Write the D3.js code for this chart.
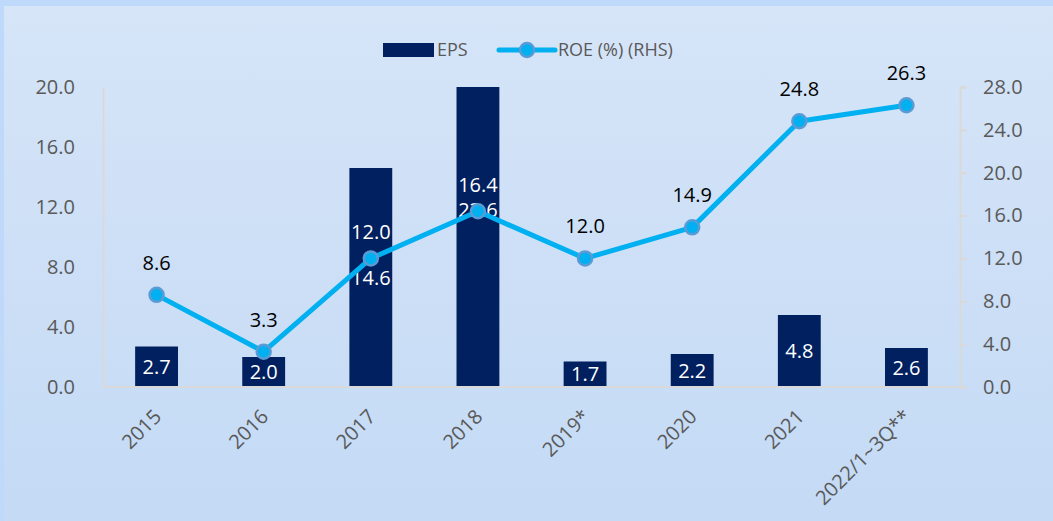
<!DOCTYPE html>
<html>
<head>
<meta charset="utf-8">
<script src="https://cdn.jsdelivr.net/npm/d3@7"></script>
<style>
  body { margin: 0; background: #bfd9fb; }
  svg { display: block; font-family: 'Open Sans', sans-serif; }
</style>
</head>
<body>
<svg></svg>
<script>
const categories = ['2015', '2016', '2017', '2018', '2019*', '2020', '2021', '2022/1~3Q**'];
const eps = [2.7, 2.0, 14.6, 23.6, 1.7, 2.2, 4.8, 2.6];
const roe = [8.6, 3.3, 12.0, 16.4, 12.0, 14.9, 24.8, 26.3];
const leftTicks = [0, 4, 8, 12, 16, 20];
const rightTicks = [0, 4, 8, 12, 16, 20, 24, 28];

const W = 1053, H = 521;
const plotLeft = 103, plotRight = 960, plotTop = 87, plotBottom = 387;

const svg = d3.select('svg').attr('width', W).attr('height', H);

const defs = svg.append('defs');
const grad = defs.append('linearGradient').attr('id', 'bg').attr('x1', 0).attr('x2', 0).attr('y1', 0).attr('y2', 1);
grad.append('stop').attr('offset', '0%').attr('stop-color', '#d6e5f8');
grad.append('stop').attr('offset', '100%').attr('stop-color', '#c4daf5');
defs.append('clipPath').attr('id', 'plot')
  .append('rect').attr('x', plotLeft).attr('y', plotTop).attr('width', plotRight - plotLeft).attr('height', plotBottom - plotTop);

svg.append('rect').attr('width', W).attr('height', H).attr('fill', '#bfd9fb');
svg.append('rect').attr('x', 4).attr('y', 6).attr('width', W - 4).attr('height', H - 6).attr('fill', 'url(#bg)');

const x = d3.scaleBand().domain(categories).range([plotLeft, plotRight]).paddingInner(0.6).paddingOuter(0.3);
const yL = d3.scaleLinear().domain([0, 20]).range([plotBottom, plotTop]);
const yR = d3.scaleLinear().domain([0, 28]).range([plotBottom, plotTop]);

const tickColor = '#595959';
const axisColor = '#d9d9d9';

// left axis
const gl = svg.append('g').attr('transform', `translate(${plotLeft},0)`)
  .call(d3.axisLeft(yL).tickValues(leftTicks).tickSize(0).tickPadding(28).tickFormat(d3.format('.1f')));
gl.select('.domain').attr('stroke', axisColor).attr('stroke-width', 2);
gl.selectAll('text').attr('fill', tickColor).style('font-size', '20px').style('font-family', 'Open Sans');

// right axis
const gr = svg.append('g').attr('transform', `translate(${plotRight},0)`)
  .call(d3.axisRight(yR).tickValues(rightTicks).tickSize(7).tickPadding(16).tickFormat(d3.format('.1f')));
gr.select('.domain').attr('stroke', axisColor).attr('stroke-width', 2);
gr.selectAll('line').attr('stroke', axisColor).attr('stroke-width', 2);
gr.selectAll('text').attr('fill', tickColor).style('font-size', '20px').style('font-family', 'Open Sans');

// bars
const plot = svg.append('g').attr('clip-path', 'url(#plot)');
plot.selectAll('rect.bar').data(eps).join('rect')
  .attr('class', 'bar')
  .attr('x', (d, i) => x(categories[i]))
  .attr('y', d => yL(d))
  .attr('width', x.bandwidth())
  .attr('height', d => plotBottom - yL(d))
  .attr('fill', '#002060');

// bottom axis line
svg.append('line').attr('x1', plotLeft).attr('x2', plotRight + 7).attr('y1', plotBottom).attr('y2', plotBottom)
  .attr('stroke', axisColor).attr('stroke-width', 2);

// x labels
svg.append('g').selectAll('text').data(categories).join('text')
  .attr('transform', d => `translate(${x(d) + x.bandwidth() / 2 + 1},${plotBottom + 26}) rotate(-45)`)
  .attr('text-anchor', 'end')
  .attr('dy', '0.35em')
  .attr('fill', tickColor)
  .style('font-size', '20px')
  .text(d => d);

// EPS labels, centred in the bar
svg.append('g').selectAll('text').data(eps).join('text')
  .attr('x', (d, i) => x(categories[i]) + x.bandwidth() / 2)
  .attr('y', d => (plotBottom + yL(d)) / 2)
  .attr('text-anchor', 'middle')
  .attr('dy', '0.35em')
  .attr('fill', '#ffffff')
  .style('font-size', '20px')
  .text(d => d.toFixed(1));

// ROE line
const cx = (d, i) => x(categories[i]) + x.bandwidth() / 2;
const line = d3.line().x(cx).y(d => yR(d));
svg.append('path').datum(roe).attr('d', line)
  .attr('fill', 'none').attr('stroke', '#00b0f0').attr('stroke-width', 5).attr('stroke-linejoin', 'round');
svg.append('g').selectAll('circle').data(roe).join('circle')
  .attr('cx', cx).attr('cy', d => yR(d)).attr('r', 7)
  .attr('fill', '#00b0f0').attr('stroke', '#5b9bd5').attr('stroke-width', 2.5);

// a ROE point that sits on a dark bar gets a white label, set a bit closer
const onBar = (d, i) => yR(d) > yL(eps[i]);
svg.append('g').selectAll('text').data(roe).join('text')
  .attr('x', cx)
  .attr('y', (d, i) => yR(d) - (onBar(d, i) ? 26 : 32))
  .attr('text-anchor', 'middle')
  .attr('dy', '0.35em')
  .attr('fill', (d, i) => onBar(d, i) ? '#ffffff' : '#000000')
  .style('font-size', '20px')
  .text(d => d.toFixed(1));

// legend
const lg = svg.append('g');
lg.append('rect').attr('x', 383).attr('y', 43).attr('width', 51).attr('height', 14).attr('fill', '#002060');
lg.append('text').attr('x', 437).attr('y', 50).attr('dy', '0.35em').attr('fill', tickColor)
  .style('font-size', '18px').text('EPS');
lg.append('line').attr('x1', 499).attr('x2', 555).attr('y1', 50).attr('y2', 50)
  .attr('stroke', '#00b0f0').attr('stroke-width', 5).attr('stroke-linecap', 'round');
lg.append('circle').attr('cx', 527).attr('cy', 50).attr('r', 7)
  .attr('fill', '#00b0f0').attr('stroke', '#5b9bd5').attr('stroke-width', 2.5);
lg.append('text').attr('x', 558).attr('y', 50).attr('dy', '0.35em').attr('fill', tickColor)
  .style('font-size', '18px').text('ROE (%) (RHS)');
</script>
</body>
</html>
